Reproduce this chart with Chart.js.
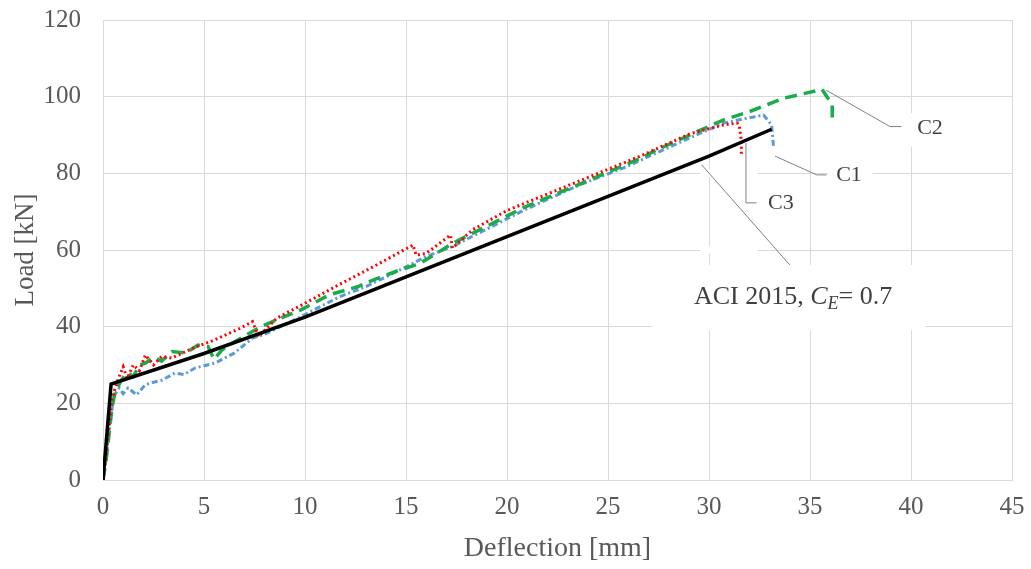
<!DOCTYPE html>
<html>
<head>
<meta charset="utf-8">
<script src="https://cdn.jsdelivr.net/npm/chart.js@4/dist/chart.umd.min.js"></script>
<style>
  html, body { margin: 0; padding: 0; background: #fff; }
  #wrap { width: 1031px; height: 569px; position: relative; }
</style>
</head>
<body>
<div id="wrap"><canvas id="loadChart"></canvas></div>
<script>
// load-deflection curves, values

const xTicks = [0, 5, 10, 15, 20, 25, 30, 35, 40, 45];
const yTicks = [0, 20, 40, 60, 80, 100, 120];

// ACI 2015 prediction
const aciX = [0, 0.4, 5, 10, 15, 20, 25, 30, 33.1];
const aciY = [0, 25, 33, 42.5, 53, 63.5, 74, 84.5, 91.5];

// C1 (blue)
const c1X = [0, 0.2, 0.4, 0.55, 0.8, 1.0, 1.24, 1.67, 2.08, 2.5, 2.9, 3.56, 4.0, 4.55, 5.0, 5.54, 6.5, 7.4, 8.0,
  9.8, 11.7, 13.0, 14.7, 16.0, 17.3, 20.8, 23.6, 25.9, 28.1, 30.7, 32.0, 32.7, 33.1, 33.2];
const c1Y = [0, 8, 17, 22, 24, 22.5, 24, 22.2, 24.8, 25.5, 26, 27.9, 27.5, 29.2, 29.8, 30.5, 33.1, 37, 38,
  42.6, 47.8, 50.4, 54.8, 58.3, 60.9, 70.3, 77, 81.7, 87, 93.1, 94.5, 95.2, 92.6, 86.6];

// C2 (green)
const c2X = [0, 0.15, 0.3, 0.45, 0.6, 0.9, 1.2, 1.5, 1.8, 2.1, 2.5, 2.9, 3.4, 4.1, 4.7, 5.2, 5.5, 5.9, 6.5, 7.8,
  9.8, 11.2, 12.6, 13.4, 14.7, 15.7, 17.3, 20.8, 24.1, 26.6, 27.4, 30.7, 32.0, 33.7, 35.6, 36.1, 36.1];
const c2Y = [0, 5, 12, 19, 23, 26, 28, 27, 30, 30.5, 32, 31, 33.5, 33.1, 35.2, 34.8, 31.5, 34, 36, 40,
  44.4, 48.3, 50.4, 52.2, 54.8, 56.5, 61.7, 71, 78.3, 83.9, 86.1, 93.9, 96.1, 99.6, 101.9, 97.9, 94.2];

// C3 (red)
const c3X = [0, 0.15, 0.3, 0.45, 0.6, 0.8, 1.0, 1.2, 1.5, 1.8, 2.1, 2.5, 2.9, 3.4, 4.5, 5.5, 6.8, 7.4, 7.7, 8.6,
  10.1, 11.7, 13.4, 15.35, 15.5, 16.0, 17.2, 17.3, 18.3, 20.0, 23.3, 26.6, 29.1, 30.7, 31.4, 31.5, 31.6, 31.6];
const c3Y = [0, 6, 14, 21, 24, 27, 29.5, 26.5, 30, 28.5, 32.6, 30, 32.2, 31.8, 34.5, 36.5, 39.6, 41.3, 37.4, 42.2,
  46.4, 51, 55.7, 61.3, 58.7, 59.1, 63.9, 60.5, 65.3, 70.3, 77.4, 84.5, 90.4, 92.6, 93.1, 92.2, 88.7, 84.8];

// callout labels: text, text centre, leader line (data units)
const calloutText = ['C2', 'C1', 'C3'];
const calloutPos = [[40.94, 91.8], [36.93, 79.6], [33.56, 72.3]];
const calloutLeaders = [
  [[35.8, 101.7], [38.96, 92.2], [39.53, 92.2]],
  [[33.27, 84.5], [35.33, 79.6], [35.82, 79.6]],
  [[31.83, 87.9], [31.83, 72.3], [32.36, 72.3]]
];
const aciLabelPos = [34.16, 47.7];
const aciLeader = [[29.64, 82.2], [34.0, 56.1]];
// white label boxes that hide the grid (x1, y1, x2, y2)
const labelBoxes = [
  [27.2, 56.1, 40.7, 39.1],
  [39.7, 95.7, 42.2, 86.9],
  [35.9, 83.0, 38.1, 75.7],
  [32.5, 75.7, 34.5, 68.9],
  [29.55, 81.0, 32.4, 79.0],
  [29.55, 61.0, 32.4, 59.0]
];

function pts(xs, ys) {
  return xs.map((x, i) => ({ x: x, y: ys[i] }));
}

const serif = "'Liberation Serif', 'Times New Roman', serif";
const textGrey = '#595959';
const gridGrey = '#d9d9d9';

const calloutPlugin = {
  id: 'callouts',
  beforeDatasetsDraw(chart) {
    const { ctx, scales: { x, y } } = chart;
    ctx.save();
    ctx.fillStyle = '#ffffff';
    labelBoxes.forEach(b => {
      const px1 = x.getPixelForValue(b[0]), py1 = y.getPixelForValue(b[1]);
      const px2 = x.getPixelForValue(b[2]), py2 = y.getPixelForValue(b[3]);
      ctx.fillRect(px1, py1, px2 - px1, py2 - py1);
    });
    ctx.restore();
  },
  afterDatasetsDraw(chart) {
    const { ctx, scales: { x, y } } = chart;
    ctx.save();
    ctx.strokeStyle = '#808080';
    ctx.lineWidth = 1;
    const leaders = calloutLeaders.concat([aciLeader]);
    leaders.forEach(line => {
      ctx.beginPath();
      line.forEach((p, i) => {
        const px = x.getPixelForValue(p[0]), py = y.getPixelForValue(p[1]);
        if (i === 0) ctx.moveTo(px, py); else ctx.lineTo(px, py);
      });
      ctx.stroke();
    });

    ctx.fillStyle = '#404040';
    ctx.textBaseline = 'middle';
    ctx.textAlign = 'center';
    ctx.font = '22px ' + serif;
    calloutText.forEach((t, i) => {
      ctx.fillText(t, x.getPixelForValue(calloutPos[i][0]), y.getPixelForValue(calloutPos[i][1]));
    });

    // ACI 2015, C_E = 0.7 with italic C and subscript E
    const parts = [
      { t: 'ACI 2015, ', f: '26px ' + serif, dy: 0 },
      { t: 'C', f: 'italic 26px ' + serif, dy: 0 },
      { t: 'E', f: 'italic 18px ' + serif, dy: 7 },
      { t: '= 0.7', f: '26px ' + serif, dy: 0 }
    ];
    let total = 0;
    parts.forEach(p => { ctx.font = p.f; p.w = ctx.measureText(p.t).width; total += p.w; });
    let cx = x.getPixelForValue(aciLabelPos[0]) - total / 2;
    const cy = y.getPixelForValue(aciLabelPos[1]);
    ctx.textAlign = 'left';
    parts.forEach(p => {
      ctx.font = p.f;
      ctx.fillText(p.t, cx, cy + p.dy);
      cx += p.w;
    });
    ctx.restore();
  }
};

const ctx = document.getElementById('loadChart').getContext('2d');

new Chart(ctx, {
  type: 'scatter',
  data: {
    datasets: [
      {
        label: 'ACI 2015',
        data: pts(aciX, aciY),
        showLine: true,
        borderColor: '#000000',
        borderWidth: 3.5,
        pointRadius: 0,
        order: 0
      },
      {
        label: 'C3',
        data: pts(c3X, c3Y),
        showLine: true,
        borderColor: '#ff0000',
        borderWidth: 3,
        borderDash: [2, 3],
        pointRadius: 0,
        order: 1
      },
      {
        label: 'C2',
        data: pts(c2X, c2Y),
        showLine: true,
        borderColor: '#1aab4b',
        borderWidth: 3.5,
        borderDash: [12, 7],
        pointRadius: 0,
        order: 2
      },
      {
        label: 'C1',
        data: pts(c1X, c1Y),
        showLine: true,
        borderColor: '#5b9bd5',
        borderWidth: 3,
        borderDash: [6, 3, 2, 3],
        pointRadius: 0,
        order: 3
      }
    ]
  },
  options: {
    responsive: true,
    maintainAspectRatio: false,
    animation: false,
    layout: { padding: { left: 0, right: 19, top: 20, bottom: 0 } },
    plugins: {
      legend: { display: false },
      tooltip: { enabled: false }
    },
    scales: {
      x: {
        type: 'linear',
        min: 0,
        max: 45,
        afterBuildTicks: s => { s.ticks = xTicks.map(v => ({ value: v })); },
        afterFit: s => { s.height = 89; s.paddingLeft = 0; s.paddingRight = 0; },
        grid: { color: gridGrey, drawTicks: false },
        border: { color: gridGrey },
        ticks: { color: textGrey, padding: 12, font: { family: serif, size: 25 } },
        title: {
          display: true,
          text: 'Deflection [mm]',
          color: textGrey,
          font: { family: serif, size: 28 },
          padding: { top: 0, bottom: 4 }
        }
      },
      y: {
        min: 0,
        max: 120,
        afterBuildTicks: s => { s.ticks = yTicks.map(v => ({ value: v })); },
        afterFit: s => { s.width = 103; s.paddingTop = 0; s.paddingBottom = 0; },
        grid: { color: gridGrey, drawTicks: false },
        border: { color: gridGrey },
        ticks: { color: textGrey, padding: 22, font: { family: serif, size: 25 } },
        title: {
          display: true,
          text: 'Load [kN]',
          color: textGrey,
          font: { family: serif, size: 27 },
          padding: { top: 10, bottom: 0 }
        }
      }
    }
  },
  plugins: [calloutPlugin]
});
</script>
</body>
</html>
